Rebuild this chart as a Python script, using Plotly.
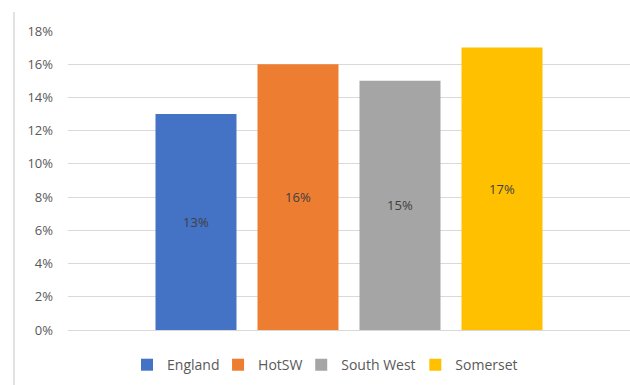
import plotly.graph_objects as go

# Share of population by area (%)
regions = ["England", "HotSW", "South West", "Somerset"]
shares = [13, 16, 15, 17]
colours = ["#4472C4", "#ED7D31", "#A5A5A5", "#FFC000"]
y_ticks = [0, 2, 4, 6, 8, 10, 12, 14, 16, 18]

# one legend per series so each key sits at its own spot along the bottom
legend_ids = ["legend", "legend2", "legend3", "legend4"]
legend_x = [0.105, 0.267, 0.415, 0.618]

fig = go.Figure()
for name, val, col, lg in zip(regions, shares, colours, legend_ids):
    fig.add_trace(go.Bar(
        x=[""], y=[val], name=name, legend=lg,
        marker=dict(color=col, line=dict(width=0)),
        text=[f"{val}%"], textposition="inside", insidetextanchor="middle",
        textfont=dict(family="Open Sans, Liberation Sans, sans-serif", size=13, color="#404040"),
        textangle=0,
    ))

legend_style = dict(orientation="h", xanchor="left", y=-0.117, yanchor="middle",
                    font=dict(size=14, color="#595959"), itemwidth=30,
                    bgcolor="rgba(0,0,0,0)")

fig.update_layout(
    width=630, height=385,
    margin=dict(l=68, r=0, t=30, b=55),
    paper_bgcolor="white", plot_bgcolor="white",
    barmode="group", bargap=0.274, bargroupgap=0.206,
    font=dict(family="Open Sans, Liberation Sans, sans-serif", color="#595959"),
    showlegend=True,
    xaxis=dict(showticklabels=False, showgrid=False, zeroline=False, showline=False),
    yaxis=dict(range=[0, 18.06], tickmode="array", tickvals=y_ticks,
               ticktext=[f"{v}%" for v in y_ticks], showgrid=True,
               gridcolor="#D9D9D9", gridwidth=1,
               zeroline=True, zerolinecolor="#D9D9D9", zerolinewidth=1, showline=False,
               tickfont=dict(size=13, color="#595959"), ticks="", ticklabelstandoff=14),
    shapes=[dict(type="line", xref="paper", yref="paper", x0=-0.0961, x1=-0.0961,
                 y0=-0.184, y1=1.06, line=dict(color="#D9D9D9", width=1.5))],
)
for lg, lx in zip(legend_ids, legend_x):
    fig.update_layout({lg: dict(legend_style, x=lx)})

fig.write_html("out.html")
